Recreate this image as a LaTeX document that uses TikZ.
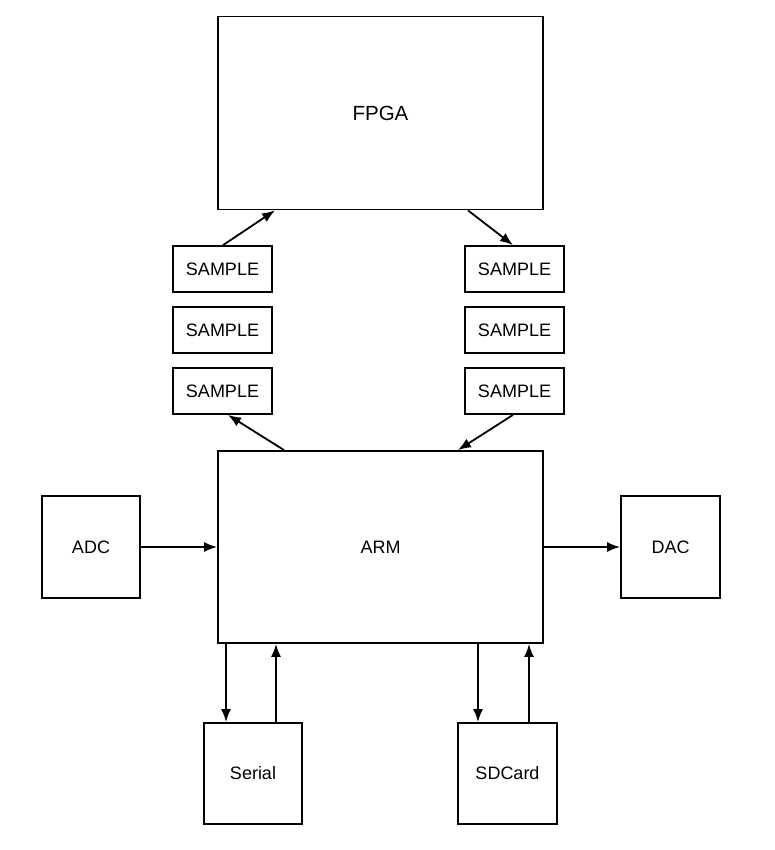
\documentclass[tikz,border=0pt]{standalone}
\usepackage{fontspec}
\setmainfont{Liberation Sans}
\usetikzlibrary{arrows.meta}
\begin{document}
\begin{tikzpicture}[x=1pt,y=-1pt,
  block/.style={draw,line width=1.8pt,inner sep=0pt,font=\fontsize{18}{22}\selectfont},
  sample/.style={block,minimum width=99pt,minimum height=46pt},
  link/.style={line width=1.8pt,-{Latex[length=13pt,width=10pt]}}]
\useasboundingbox (0,0) rectangle (775,850);

% Processors
\node[block,minimum width=325pt,minimum height=193pt,font=\fontsize{20.5}{24}\selectfont] (fpga) at (380.5,113) {FPGA};
\node[block,minimum width=325pt,minimum height=192pt] (arm) at (380.5,547) {ARM};

% Sample buffers
\node[sample] (sl1) at (222.5,269) {SAMPLE};
\node[sample] (sl2) at (222.5,330) {SAMPLE};
\node[sample] (sl3) at (222.5,391) {SAMPLE};
\node[sample] (sr1) at (514.5,269) {SAMPLE};
\node[sample] (sr2) at (514.5,330) {SAMPLE};
\node[sample] (sr3) at (514.5,391) {SAMPLE};

% Peripherals
\node[block,minimum width=98pt,minimum height=102pt] (adc) at (91,547) {ADC};
\node[block,minimum width=99pt,minimum height=102pt] (dac) at (670.5,547) {DAC};
\node[block,minimum width=98pt,minimum height=101pt] (serial) at (253,773.5) {Serial};
\node[block,minimum width=99pt,minimum height=101pt] (sdcard) at (507.5,773.5) {SDCard};

% FPGA <-> ARM through the buffers
\draw[link] (sl1.north -| 223,0) -- (fpga.south -| 275,0);
\draw[link] (fpga.south -| 468,0) -- (sr1.north -| 513,0);
\draw[link] (arm.north -| 284,0) -- (sl3.south -| 228,0);
\draw[link] (sr3.south -| 513,0) -- (arm.north -| 458,0);

% Converters
\draw[link] (adc.east) -- (arm.west |- adc.east);
\draw[link] (arm.east |- dac.west) -- (dac.west);

% Serial and SD card
\draw[link] (arm.south -| 226,0) -- (serial.north -| 226,0);
\draw[link] (serial.north -| 276,0) -- (arm.south -| 276,0);
\draw[link] (arm.south -| 478,0) -- (sdcard.north -| 478,0);
\draw[link] (sdcard.north -| 529,0) -- (arm.south -| 529,0);
\end{tikzpicture}
\end{document}
